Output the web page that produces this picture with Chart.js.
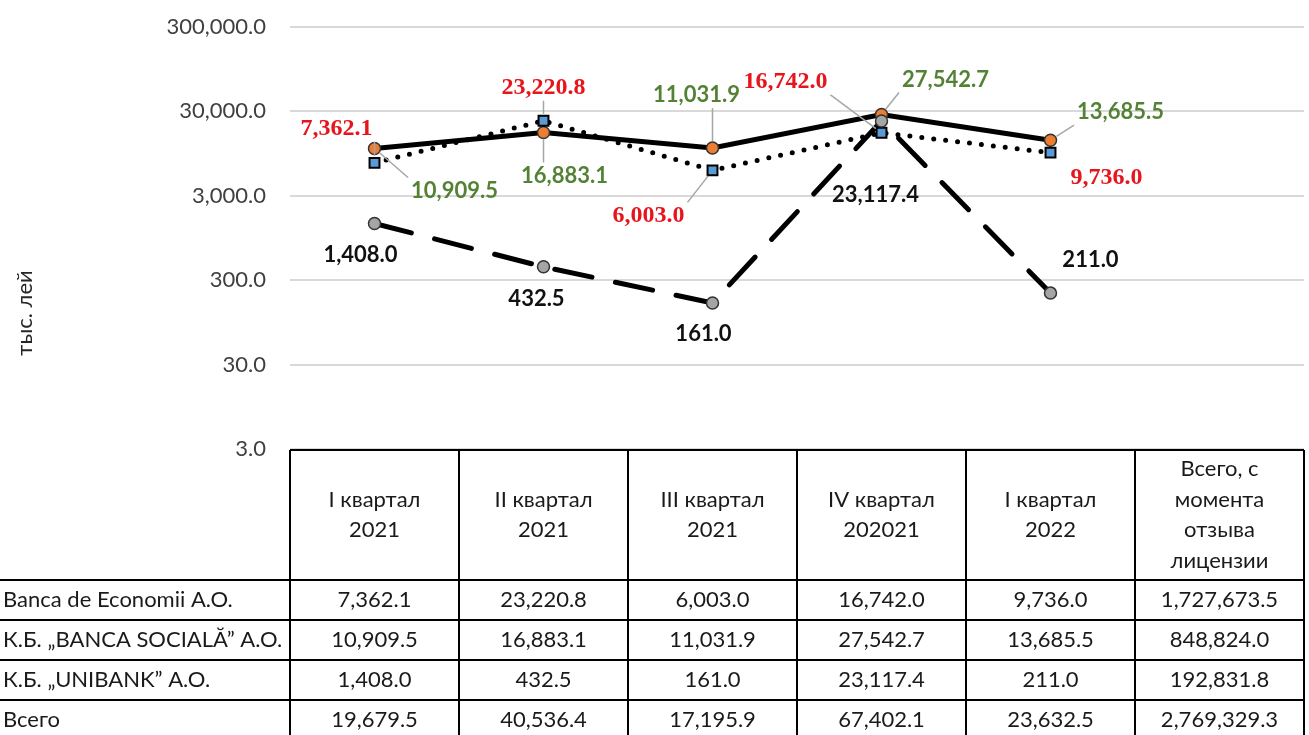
<!DOCTYPE html>
<html>
<head>
<meta charset="utf-8">
<script src="https://cdn.jsdelivr.net/npm/chart.js@4"></script>
<style>
  html, body { margin: 0; padding: 0; background: #fff; overflow: hidden; }
  canvas { display: block; }
</style>
</head>
<body>
<canvas id="lossChart" width="1313" height="735"></canvas>
<script>
// Категории (столбцы таблицы)
const categories = [
    ['I квартал', '2021'],
    ['II квартал', '2021'],
    ['III квартал', '2021'],
    ['IV квартал', '202021'],
    ['I квартал', '2022'],
    ['Всего, с', 'момента', 'отзыва', 'лицензии']
];
const seriesNames = ['Banca de Economii A.O.', 'К.Б. „BANCA SOCIALĂ” A.O.', 'К.Б. „UNIBANK” A.O.', 'Всего'];

// Значения, тыс. лей
const economii = [7362.1, 23220.8, 6003.0, 16742.0, 9736.0, 1727673.5];
const sociala = [10909.5, 16883.1, 11031.9, 27542.7, 13685.5, 848824.0];
const unibank = [1408.0, 432.5, 161.0, 23117.4, 211.0, 192831.8];
const total = [19679.5, 40536.4, 17195.9, 67402.1, 23632.5, 2769329.3];

const yTicks = [3, 30, 300, 3000, 30000, 300000];
const plotted = 5; // на графике только кварталы

// смещения подписей [dx, dy, выноска]
const labelOffsets = [
    [[-38, -34, true], [0, -33, true], [-64, 45, true], [-96, -51, true], [56, 25, false]],
    [[80, 42, true], [21, 43, true], [-16, -53, true], [64, -35, true], [70, -28, true]],
    [[-14, 31, false], [-7, 32, false], [-9, 31, false], [-6, 74, false], [40, -33, false]]
];
const labelStyles = [
    { font: 'bold 24px "Liberation Serif", serif', color: '#e8141b' },
    { font: 'bold 22px Lato, "Noto Sans", sans-serif', color: '#548235' },
    { font: 'bold 22px Lato, "Noto Sans", sans-serif', color: '#111' }
];

const fmt = v => v.toLocaleString('en-US', { minimumFractionDigits: 1, maximumFractionDigits: 1 });
const sans = 'Lato, "Noto Sans", sans-serif';

const pointLabels = {
    id: 'pointLabels',
    afterDatasetsDraw(chart) {
        const ctx = chart.ctx;
        ctx.save();
        ctx.textAlign = 'center';
        ctx.textBaseline = 'middle';
        chart.data.datasets.forEach((ds, di) => {
            const meta = chart.getDatasetMeta(di);
            const st = labelStyles[di];
            meta.data.forEach((pt, i) => {
                const [dx, dy, lead] = labelOffsets[di][i];
                const text = fmt(ds.data[i]);
                ctx.font = st.font;
                const w = ctx.measureText(text).width;
                const lx = pt.x + dx, ly = pt.y + dy;
                if (lead) {
                    const hw = w / 2 + 3, hh = 13;
                    const sx = Math.min(Math.max(pt.x, lx - hw), lx + hw);
                    const sy = Math.min(Math.max(pt.y, ly - hh), ly + hh);
                    const d = Math.hypot(pt.x - sx, pt.y - sy);
                    if (d > 9) {
                        const ex = pt.x + (sx - pt.x) * 7 / d;
                        const ey = pt.y + (sy - pt.y) * 7 / d;
                        ctx.strokeStyle = '#a6a6a6';
                        ctx.lineWidth = 1.5;
                        ctx.beginPath();
                        ctx.moveTo(sx, sy);
                        ctx.lineTo(ex, ey);
                        ctx.stroke();
                    }
                }
                ctx.fillStyle = st.color;
                ctx.fillText(text, lx, ly);
            });
        });
        ctx.restore();
    }
};

const dataTable = {
    id: 'dataTable',
    afterDraw(chart) {
        const { ctx, chartArea } = chart;
        const xs = chart.scales.x;
        const step = (chartArea.right - chartArea.left) / categories.length;
        const top = chartArea.bottom + 1;
        const headH = 130, rowH = 40;
        const rows = [economii, sociala, unibank, total];
        ctx.save();
        ctx.strokeStyle = '#000';
        ctx.lineWidth = 2;
        ctx.beginPath();
        ctx.moveTo(chartArea.left, top);
        ctx.lineTo(chartArea.right, top);
        for (let i = 0; i <= categories.length; i++) {
            const x = Math.round(chartArea.left + i * step);
            ctx.moveTo(x, top);
            ctx.lineTo(x, top + headH + rows.length * rowH);
        }
        for (let r = 0; r <= rows.length; r++) {
            const y = top + headH + r * rowH;
            ctx.moveTo(0, y);
            ctx.lineTo(chartArea.right, y);
        }
        ctx.stroke();

        ctx.fillStyle = '#1a1a1a';
        ctx.font = '22px ' + sans;
        ctx.textAlign = 'center';
        ctx.textBaseline = 'middle';
        categories.forEach((lines, i) => {
            const cx = xs.getPixelForValue(i);
            const cy = top + headH / 2;
            lines.forEach((t, k) => {
                ctx.fillText(t, cx, cy + (k - (lines.length - 1) / 2) * 30.5);
            });
        });
        rows.forEach((vals, r) => {
            const cy = top + headH + r * rowH + rowH / 2;
            ctx.textAlign = 'left';
            ctx.fillText(seriesNames[r], 3, cy);
            ctx.textAlign = 'center';
            vals.forEach((v, i) => ctx.fillText(fmt(v), xs.getPixelForValue(i), cy));
        });

        // подпись оси
        ctx.translate(25, 313);
        ctx.rotate(-Math.PI / 2);
        ctx.fillStyle = '#262626';
        ctx.font = '22px ' + sans;
        ctx.fillText('тыс. лей', 0, 0);
        ctx.restore();
    }
};

const ctx = document.getElementById('lossChart').getContext('2d');
new Chart(ctx, {
    type: 'line',
    data: {
        labels: categories,
        datasets: [{
            label: seriesNames[0],
            data: economii.slice(0, plotted),
            order: 1,
            borderColor: '#000',
            borderWidth: 5,
            borderDash: [0, 12],
            borderCapStyle: 'round',
            pointStyle: 'rect',
            pointRadius: 7,
            pointBackgroundColor: '#5b9bd5',
            pointBorderColor: '#000',
            pointBorderWidth: 2
        }, {
            label: seriesNames[1],
            data: sociala.slice(0, plotted),
            order: 2,
            borderColor: '#000',
            borderWidth: 5,
            pointRadius: 6,
            pointBackgroundColor: '#ed7d31',
            pointBorderColor: '#333',
            pointBorderWidth: 1.5
        }, {
            label: seriesNames[2],
            data: unibank.slice(0, plotted),
            order: 0,
            borderColor: '#000',
            borderWidth: 5,
            borderDash: [38, 24],
            borderCapStyle: 'round',
            pointRadius: 6,
            pointBackgroundColor: '#a5a5a5',
            pointBorderColor: '#333',
            pointBorderWidth: 1.5
        }]
    },
    options: {
        responsive: false,
        animation: false,
        devicePixelRatio: 1,
        layout: { padding: { top: 27, bottom: 286, left: 0, right: 0 } },
        plugins: {
            legend: { display: false },
            tooltip: { enabled: false }
        },
        scales: {
            x: {
                type: 'category',
                offset: true,
                display: false
            },
            y: {
                type: 'logarithmic',
                min: 3,
                max: 300000,
                afterBuildTicks: s => { s.ticks = yTicks.map(v => ({ value: v })); },
                afterFit: s => {
                    s.width = 290;
                    s.paddingTop = 0;
                    s.paddingBottom = 0;
                },
                border: { display: false },
                grid: { color: '#d9d9d9', lineWidth: 2, drawTicks: false },
                ticks: {
                    padding: 24,
                    color: '#404040',
                    font: { family: sans, size: 22 },
                    callback: v => fmt(v)
                }
            }
        }
    },
    plugins: [pointLabels, dataTable]
});
</script>
</body>
</html>
